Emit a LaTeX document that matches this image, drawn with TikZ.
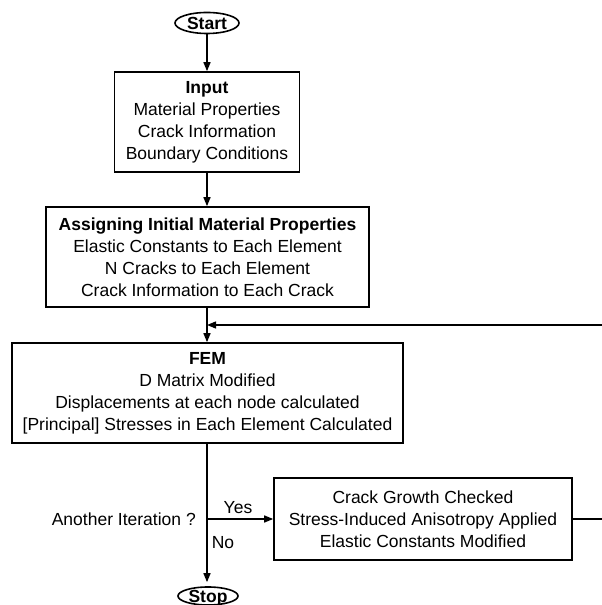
\documentclass[tikz,border=0pt]{standalone}
\usepackage{fontspec}
\setmainfont{Liberation Sans}
\usetikzlibrary{arrows.meta,shapes.geometric}
\tikzset{
  txt/.style={font=\fontsize{17.5}{22}\selectfont, align=center},
  procbox/.style={draw, line width=1.6pt, rectangle, inner sep=0pt, txt},
  term/.style={draw, line width=1.6pt, ellipse, inner sep=0pt, text depth=0pt,
               font=\bfseries\fontsize{17.5}{20}\selectfont},
  conn/.style={line width=1.4pt},
  arr/.style={conn, -{Triangle[length=9pt,width=7pt]}},
}
\begin{document}
\begin{tikzpicture}[x=1pt,y=1pt]
\useasboundingbox (0,0) rectangle (602,605);
\node[term, minimum width=64pt, minimum height=21pt] (start) at (207,582) {Start};
\node[procbox, minimum width=185pt, minimum height=100pt] (input) at (207,483)
  {\textbf{Input}\\Material Properties\\Crack Information\\Boundary Conditions};
\node[procbox, minimum width=323pt, minimum height=100pt] (assign) at (207.5,348)
  {\textbf{Assigning Initial Material Properties}\\Elastic Constants to Each Element\\N Cracks to Each Element\\Crack Information to Each Crack};
\node[procbox, minimum width=391pt, minimum height=100pt] (fem) at (207.5,212)
  {\textbf{FEM}\\D Matrix Modified\\Displacements at each node calculated\\{[Principal]} Stresses in Each Element Calculated};
\node[procbox, minimum width=298pt, minimum height=82pt] (crack) at (423,86)
  {Crack Growth Checked\\Stress-Induced Anisotropy Applied\\Elastic Constants Modified};
\node[term, minimum width=60pt, minimum height=18pt] (stop) at (208,9) {Stop};
\node[txt, anchor=east, inner sep=0pt] (ask) at (196,86) {Another Iteration ?};
\node[txt, inner sep=0pt] (yes) at (238,97) {Yes};
\node[txt, inner sep=0pt] (no) at (223,62) {No};

\coordinate (fb) at (207,280);
\coordinate (fbR) at (602,280);
\coordinate (br) at (207,86);
\coordinate (cR) at (602,86);

\draw[arr] (start.south -| input.north) -- (input.north);
\draw[arr] (input.south) -- (assign.north -| input.south);
\draw[arr] (assign.south -| fb) -- (fem.north -| fb);
\draw[arr] (fbR) -- (fb);
\draw[conn] (fem.south -| fb) -- (br);
\draw[arr, shorten >=4pt] (br) -- (stop.north -| br);
\draw[arr] (br) -- (crack.west);
\draw[conn] (crack.east) -- (cR);
\end{tikzpicture}
\end{document}
